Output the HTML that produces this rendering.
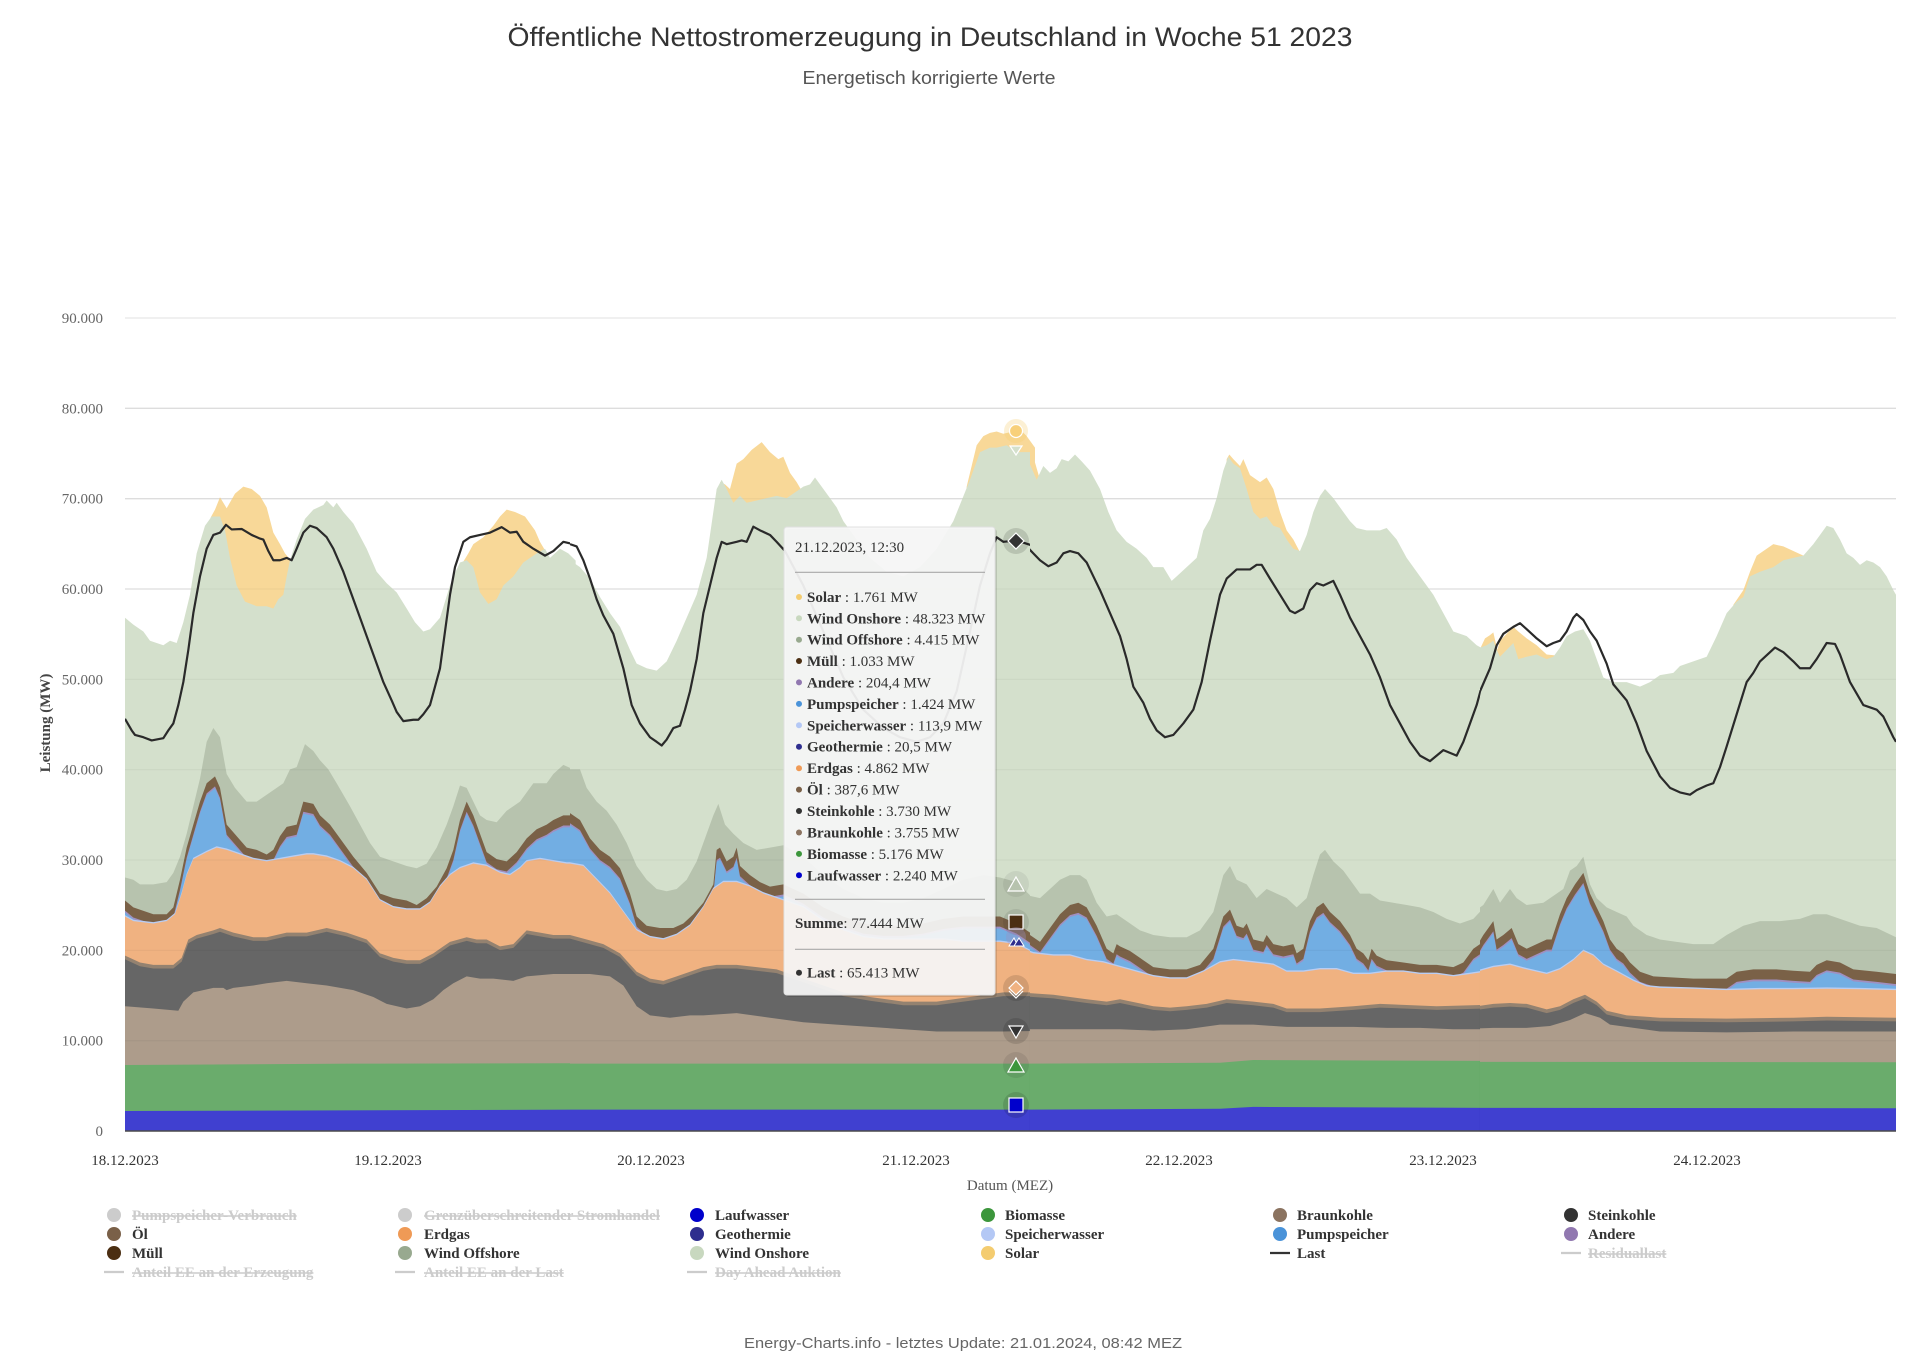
<!DOCTYPE html>
<html><head><meta charset="utf-8"><style>
html,body{margin:0;padding:0;background:#fff;}
svg{display:block;}
.ser{font-family:"Liberation Serif",serif;}
.san{font-family:"Liberation Sans",sans-serif;}
</style></head><body>
<svg width="1920" height="1367" viewBox="0 0 1920 1367" xmlns="http://www.w3.org/2000/svg">
<defs>
<clipPath id="c4"><rect x="15" y="-300" width="1335" height="1846"/></clipPath>
<clipPath id="c5"><rect x="0" y="-300" width="1380" height="1846"/></clipPath>
<clipPath id="c6"><rect x="30" y="-300" width="1350" height="1846"/></clipPath>
<clipPath id="c7"><rect x="60" y="-300" width="1248" height="1846"/></clipPath>
<clipPath id="a4"><rect x="15" y="-300" width="1352" height="1846"/></clipPath>
<clipPath id="a5"><rect x="0" y="-300" width="1395" height="1846"/></clipPath>
<clipPath id="a6"><rect x="30" y="-300" width="1365" height="1846"/></clipPath>
<clipPath id="a7"><rect x="60" y="-300" width="1248" height="1846"/></clipPath>

<polygon id="m4" points="15,1546 15,1045 40,1060 100,1075 140,1075 160,1060 180,1000 200,930 220,880 240,830 260,790 285,775 300,800 320,880 350,905 380,930 410,935 440,945 460,935 480,905 500,885 530,880 550,830 580,835 600,860 630,880 660,910 700,950 740,985 780,1030 820,1040 860,1045 890,1055 920,1040 950,1015 980,975 1000,935 1020,870 1040,830 1060,860 1080,900 1100,940 1130,955 1160,960 1190,940 1220,910 1250,890 1280,880 1300,870 1330,860 1360,860 1380,855 1380,1546"/>
<polygon id="g4" points="15,1546 15,1080 40,1090 100,1095 140,1090 165,1075 185,1030 200,990 220,955 260,940 290,930 320,935 360,945 400,955 440,960 480,955 520,950 560,945 580,945 620,950 660,960 700,975 740,1000 780,1045 820,1060 860,1065 900,1065 930,1050 960,1015 990,990 1020,975 1060,965 1100,970 1140,985 1170,990 1200,975 1220,960 1260,955 1300,960 1340,965 1380,965 1380,1546"/>
<polygon id="o4" points="15,1546 15,1165 60,1180 100,1185 160,1185 185,1170 205,1130 230,1120 280,1110 300,1105 340,1115 400,1125 440,1125 500,1115 560,1115 620,1105 680,1115 740,1130 780,1160 820,1170 860,1175 900,1175 940,1160 970,1145 990,1135 1040,1125 1070,1130 1100,1130 1140,1145 1180,1140 1220,1110 1260,1115 1300,1120 1380,1120 1380,1546"/>

<polygon id="m5" points="0,1546 0,855 30,870 60,910 90,935 120,950 150,975 180,1030 200,1080 230,1100 270,1105 310,1105 340,1095 370,1075 400,1050 430,1010 440,935 450,930 470,960 490,950 500,930 510,970 540,990 570,1005 600,1015 640,1010 700,1030 760,1060 820,1080 880,1095 940,1100 1000,1100 1060,1095 1120,1085 1180,1080 1240,1080 1290,1080 1340,1095 1380,1115 1395,1120 1395,1546"/>
<polygon id="g5" points="0,1546 0,965 40,970 80,1000 120,1030 160,1070 200,1110 240,1125 280,1130 320,1120 360,1100 400,1060 430,1020 460,1005 500,1005 540,1015 580,1030 620,1040 700,1060 760,1090 820,1110 880,1125 940,1130 1000,1130 1060,1130 1120,1130 1180,1135 1240,1135 1290,1135 1340,1140 1380,1155 1395,1158 1395,1546"/>
<polygon id="o5" points="0,1546 0,1120 50,1130 100,1140 150,1160 200,1200 240,1215 280,1220 320,1210 360,1200 400,1190 440,1185 500,1185 560,1190 620,1195 700,1215 760,1230 820,1245 900,1255 1000,1265 1100,1265 1200,1255 1300,1245 1395,1245 1395,1546"/>

<polygon id="m6" points="0,1546 0,1110 30,1120 60,1135 90,1105 120,1075 150,1055 175,1050 200,1060 230,1100 260,1150 280,1160 290,1140 300,1145 330,1155 360,1170 400,1190 450,1195 500,1195 540,1185 580,1150 610,1080 630,1065 650,1100 670,1105 680,1095 700,1130 730,1135 740,1120 760,1140 790,1145 820,1140 830,1160 850,1150 870,1090 890,1060 910,1050 930,1070 960,1090 990,1120 1010,1150 1030,1160 1045,1175 1055,1150 1070,1165 1100,1175 1150,1180 1200,1185 1250,1185 1300,1190 1330,1180 1360,1150 1380,1140 1395,1136 1395,1546"/>
<polygon id="g6" points="0,1546 0,1150 40,1160 100,1165 150,1165 200,1175 250,1180 300,1190 350,1200 400,1210 450,1215 500,1215 550,1200 600,1180 640,1175 700,1180 760,1185 800,1200 850,1200 900,1195 950,1195 1000,1205 1050,1205 1100,1200 1150,1200 1200,1205 1250,1205 1300,1210 1350,1205 1395,1200 1395,1546"/>
<polygon id="o6" points="0,1546 0,1245 100,1250 200,1260 260,1265 300,1260 400,1275 450,1278 500,1275 560,1270 620,1260 700,1265 760,1270 800,1280 900,1280 1000,1275 1080,1270 1150,1272 1250,1275 1395,1272 1395,1546"/>

<polygon id="m7" points="0,1546 0,1180 30,1170 50,1145 70,1120 100,1090 110,1130 130,1120 155,1105 175,1140 200,1150 230,1140 260,1130 275,1130 300,1075 320,1040 345,1010 370,985 390,1030 410,1060 430,1090 450,1130 470,1150 490,1160 510,1180 540,1200 580,1210 700,1215 800,1215 830,1200 880,1195 950,1195 1000,1198 1050,1200 1070,1185 1100,1175 1140,1180 1180,1195 1250,1200 1308,1205 1308,1546"/>
<polygon id="g7" points="0,1546 0,1215 50,1200 100,1190 150,1185 200,1195 260,1205 300,1195 340,1175 370,1155 400,1165 430,1185 470,1200 520,1220 560,1232 600,1235 700,1237 800,1240 900,1238 1000,1238 1100,1237 1200,1238 1308,1240 1308,1546"/>
<polygon id="o7" points="0,1546 0,1280 50,1275 100,1270 150,1268 200,1270 260,1282 300,1275 340,1260 375,1250 410,1265 440,1285 500,1295 600,1300 800,1302 1000,1300 1100,1298 1308,1300 1308,1546"/>
</defs>

<!-- gridlines (under) -->
<g stroke="#e6e6e6" stroke-width="1.3">
<line x1="125" y1="318" x2="1896" y2="318"/>
<line x1="125" y1="408.3" x2="1896" y2="408.3"/>
<line x1="125" y1="498.7" x2="1896" y2="498.7"/>
<line x1="125" y1="589" x2="1896" y2="589"/>
<line x1="125" y1="679.4" x2="1896" y2="679.4"/>
<line x1="125" y1="769.7" x2="1896" y2="769.7"/>
<line x1="125" y1="860" x2="1896" y2="860"/>
<line x1="125" y1="950.4" x2="1896" y2="950.4"/>
<line x1="125" y1="1040.7" x2="1896" y2="1040.7"/>
</g>

<!-- SECTION 4 -->
<g transform="translate(120,420) scale(0.333333,0.45977)"><g clip-path="url(#a4)">
<polygon fill="#f8d898" points="272,1546 272,212 285,195 300,168 320,192 345,160 370,145 395,150 420,165 440,190 460,245 480,270 495,290 512,305 512,1546"/>
<polygon fill="#f8d898" points="1030,1546 1030,308 1045,290 1060,270 1090,255 1120,230 1140,210 1160,195 1185,200 1215,210 1245,240 1260,265 1282,292 1282,1546"/>
<polygon fill="#d4e0cc" points="15,1546 15,430 40,445 70,460 90,480 130,490 150,480 170,485 190,440 210,380 230,290 255,230 275,210 300,210 315,240 330,300 350,360 375,395 410,405 440,405 460,410 475,390 490,380 500,340 510,305 530,260 555,215 580,195 610,185 620,175 640,190 650,180 670,200 700,225 740,280 770,330 800,355 830,375 860,410 885,440 910,460 930,455 960,430 990,360 1000,340 1020,310 1040,305 1060,320 1080,375 1105,400 1130,390 1150,360 1180,340 1210,310 1250,290 1275,280 1290,300 1320,280 1345,290 1380,315 1380,1546"/>
<polygon fill="#b7c3ae" points="15,1546 15,995 40,1000 60,1010 100,1010 140,1005 160,985 180,950 200,900 220,840 240,780 260,700 280,670 300,690 320,770 345,800 380,830 410,830 440,815 470,800 490,790 510,760 530,755 555,705 580,720 600,740 625,760 650,790 690,840 720,880 750,920 780,950 820,960 860,970 890,975 920,965 950,930 980,880 1000,840 1020,795 1040,800 1060,830 1080,860 1100,870 1130,875 1160,850 1200,830 1240,790 1280,790 1300,770 1330,750 1360,760 1380,765 1380,1546"/>
<use href="#m4" fill="#7a6147"/>
<use href="#m4" fill="#a08fc0" transform="translate(0,22)"/>
<use href="#m4" fill="#72aee3" transform="translate(0,26)"/>
<use href="#g4" fill="#b9cdf3" transform="translate(0,-3)"/>
<use href="#g4" fill="#f0b281"/>
<use href="#o4" fill="#948270"/>
<use href="#o4" fill="#666666" transform="translate(0,8)"/>
<polygon fill="#ad9c8b" points="15,1546 15,1275 100,1280 175,1285 190,1265 220,1245 280,1235 310,1235 320,1240 340,1235 400,1230 440,1225 500,1220 560,1225 620,1230 700,1240 760,1255 800,1270 860,1280 900,1275 940,1260 970,1240 1000,1225 1040,1210 1080,1215 1120,1215 1180,1220 1220,1210 1300,1205 1380,1205 1380,1546"/>
<polygon fill="#6aac6c" points="15,1546 15,1403 700,1400 1380,1399 1380,1546"/>
<polygon fill="#4040d0" points="15,1546 15,1503 1380,1500 1380,1546"/>
</g></g>

<!-- SECTION 5 -->
<g transform="translate(570,420) scale(0.333333,0.45977)"><g clip-path="url(#a5)">
<polygon fill="#f8d898" points="450,1546 450,135 465,140 480,150 500,95 520,85 545,65 575,48 600,70 625,85 640,80 660,115 680,135 692,150 692,1546"/>
<polygon fill="#f8d898" points="1190,1546 1190,145 1220,55 1240,35 1260,28 1280,25 1300,30 1330,25 1350,20 1370,35 1395,60 1395,1546"/>
<polygon fill="#d4e0cc" points="0,1546 0,305 30,320 60,345 90,385 120,420 150,450 180,500 200,530 230,540 260,545 290,525 320,480 350,430 380,380 410,300 440,150 455,130 470,150 490,180 510,165 530,180 560,175 590,170 620,165 650,170 690,150 700,145 720,140 735,125 750,140 780,170 800,190 820,220 840,240 900,300 950,330 1000,340 1050,320 1100,280 1150,220 1200,130 1230,70 1260,60 1280,60 1310,55 1340,70 1382,70 1395,90 1395,1546"/>
<polygon fill="#b7c3ae" points="0,1546 0,760 30,760 50,800 80,830 110,850 140,880 170,920 200,970 230,1000 260,1020 290,1025 320,1020 350,1000 380,960 410,900 430,860 445,835 465,880 490,900 520,920 560,935 600,930 640,925 700,950 760,990 820,1020 880,1040 940,1050 1000,1050 1060,1040 1120,1020 1180,1000 1240,990 1290,995 1340,1005 1382,1035 1395,1037 1395,1546"/>
<use href="#m5" fill="#7a6147"/>
<use href="#m5" fill="#a08fc0" transform="translate(0,22)"/>
<use href="#m5" fill="#72aee3" transform="translate(0,26)"/>
<use href="#g5" fill="#b9cdf3" transform="translate(0,-3)"/>
<use href="#g5" fill="#f0b281"/>
<use href="#o5" fill="#948270"/>
<use href="#o5" fill="#666666" transform="translate(0,8)"/>
<polygon fill="#ad9c8b" points="0,1546 0,1205 60,1205 120,1210 160,1230 200,1275 240,1295 300,1300 360,1295 400,1295 500,1290 600,1300 700,1310 800,1315 900,1320 1000,1325 1100,1330 1200,1330 1300,1330 1395,1329 1395,1546"/>
<polygon fill="#6aac6c" points="0,1546 0,1400 1395,1400 1395,1546"/>
<polygon fill="#4040d0" points="0,1546 0,1500 1395,1500 1395,1546"/>
</g></g>

<!-- SECTION 6 -->
<g transform="translate(1020,420) scale(0.333333,0.45977)"><g clip-path="url(#a6)">
<polygon fill="#f8d898" points="0,1546 0,20 20,40 40,80 58,125 58,1546"/>
<polygon fill="#f8d898" points="620,1546 620,85 628,75 640,85 660,100 670,85 690,120 720,135 740,125 760,150 780,200 800,240 820,260 838,285 838,1546"/>
<polygon fill="#d4e0cc" points="0,1546 0,60 20,80 50,130 70,100 90,115 110,105 125,85 145,90 165,75 185,90 210,110 240,150 265,200 290,240 320,265 350,280 380,300 400,320 430,320 455,350 470,340 500,320 530,300 550,240 570,215 590,170 610,110 625,80 640,95 660,105 680,150 700,200 720,215 740,210 760,230 780,235 800,260 820,280 840,285 860,250 880,200 900,165 915,150 940,170 970,200 990,220 1010,235 1040,240 1080,240 1100,235 1130,260 1160,300 1200,340 1240,380 1270,420 1300,460 1340,470 1370,490 1395,500 1395,1546"/>
<polygon fill="#b7c3ae" points="0,1546 0,1030 30,1035 60,1040 90,1020 120,1000 150,990 180,990 200,1000 230,1050 260,1080 290,1075 320,1090 360,1110 400,1120 450,1125 500,1125 540,1110 580,1070 610,990 630,970 650,1000 680,1010 710,1040 740,1020 770,1030 800,1040 830,1060 860,1040 880,990 900,945 915,935 940,960 970,980 1000,1010 1020,1030 1050,1030 1080,1045 1120,1050 1160,1055 1200,1060 1240,1070 1280,1085 1320,1095 1360,1085 1382,1068 1395,1062 1395,1546"/>
<use href="#m6" fill="#7a6147"/>
<use href="#m6" fill="#a08fc0" transform="translate(0,22)"/>
<use href="#m6" fill="#72aee3" transform="translate(0,26)"/>
<use href="#g6" fill="#b9cdf3" transform="translate(0,-3)"/>
<use href="#g6" fill="#f0b281"/>
<use href="#o6" fill="#948270"/>
<use href="#o6" fill="#666666" transform="translate(0,8)"/>
<polygon fill="#ad9c8b" points="0,1546 0,1325 100,1325 200,1325 300,1325 400,1328 500,1325 600,1315 700,1315 800,1320 900,1320 1000,1320 1100,1322 1200,1322 1300,1325 1395,1325 1395,1546"/>
<polygon fill="#6aac6c" points="0,1546 0,1400 600,1398 700,1392 1395,1394 1395,1546"/>
<polygon fill="#4040d0" points="0,1546 0,1500 600,1498 700,1494 1395,1496 1395,1546"/>
</g></g>

<!-- SECTION 7 -->
<g transform="translate(1460,420) scale(0.333333,0.45977)"><g clip-path="url(#a7)">
<polygon fill="#f8d898" points="62,1546 62,495 75,475 90,468 100,462 112,500 112,1546"/>
<polygon fill="#f8d898" points="108,1546 108,510 120,480 140,465 160,450 175,460 200,475 230,490 260,510 285,512 285,1546"/>
<polygon fill="#f8d898" points="820,1546 820,402 850,370 870,330 890,295 920,280 940,270 970,275 1000,285 1030,295 1050,288 1060,272 1060,1546"/>
<polygon fill="#d4e0cc" points="0,1546 0,460 40,480 60,495 80,490 100,480 110,500 120,515 140,500 160,485 175,520 200,515 230,510 260,520 280,515 300,495 320,470 345,460 370,455 390,480 410,520 430,560 460,570 500,570 540,580 570,570 600,555 640,550 660,535 700,525 740,515 770,470 800,420 830,395 850,385 870,340 900,330 940,320 970,305 1000,300 1030,295 1060,270 1080,250 1100,230 1120,235 1140,260 1160,290 1180,300 1200,315 1220,305 1240,310 1260,320 1280,340 1300,370 1308,380 1308,1546"/>
<polygon fill="#b7c3ae" points="0,1546 0,1090 40,1070 70,1055 100,1020 120,1050 150,1020 170,1040 200,1055 250,1050 290,1030 310,1020 330,980 350,970 370,950 390,1010 410,1040 440,1060 470,1070 500,1080 520,1100 560,1120 600,1130 650,1135 700,1140 760,1140 780,1130 800,1120 850,1100 900,1090 960,1090 1020,1085 1060,1075 1100,1075 1140,1085 1200,1100 1250,1105 1308,1125 1308,1546"/>
<use href="#m7" fill="#7a6147"/>
<use href="#m7" fill="#a08fc0" transform="translate(0,22)"/>
<use href="#m7" fill="#72aee3" transform="translate(0,26)"/>
<use href="#g7" fill="#b9cdf3" transform="translate(0,-3)"/>
<use href="#g7" fill="#f0b281"/>
<use href="#o7" fill="#948270"/>
<use href="#o7" fill="#666666" transform="translate(0,8)"/>
<polygon fill="#ad9c8b" points="0,1546 0,1325 100,1322 200,1322 270,1318 330,1305 375,1290 420,1300 450,1315 500,1320 600,1330 800,1332 1000,1330 1308,1330 1308,1546"/>
<polygon fill="#6aac6c" points="0,1546 0,1396 1308,1397 1308,1546"/>
<polygon fill="#4040d0" points="0,1546 0,1496 1308,1497 1308,1546"/>
</g></g>

<!-- load lines (tight clips) -->
<g transform="translate(120,420) scale(0.333333,0.45977)"><g clip-path="url(#c4)">
<polyline fill="none" stroke="#2a2a2a" stroke-width="2.2" stroke-linejoin="round" vector-effect="non-scaling-stroke" points="15,650 35,675 45,685 70,690 95,697 130,692 145,675 160,660 175,620 190,570 205,500 220,420 240,340 260,280 280,250 300,245 318,228 335,238 365,237 395,250 420,258 430,260 445,285 460,305 480,305 500,300 515,305 530,280 550,245 570,230 590,235 620,255 640,280 670,330 700,390 730,450 760,510 790,570 815,610 830,635 850,655 880,652 895,652 910,640 930,620 945,580 960,540 975,460 990,380 1005,320 1030,265 1050,255 1080,250 1110,245 1145,233 1170,245 1190,243 1210,265 1240,280 1275,295 1300,285 1330,265 1360,270 1380,295"/>
</g></g>
<g transform="translate(570,420) scale(0.333333,0.45977)"><g clip-path="url(#c5)">
<polyline fill="none" stroke="#2a2a2a" stroke-width="2.2" stroke-linejoin="round" vector-effect="non-scaling-stroke" points="0,270 20,275 40,305 60,345 80,390 100,425 130,465 160,540 185,620 210,660 240,690 260,700 275,708 290,695 310,670 330,665 345,630 360,590 380,520 400,420 420,360 440,300 455,265 470,270 500,265 515,262 530,265 550,232 570,240 600,250 620,265 645,285 700,360 760,460 820,560 880,630 940,670 990,690 1040,700 1080,690 1120,660 1160,590 1200,460 1230,360 1260,290 1280,255 1300,265 1340,262 1382,272"/>
</g></g>
<g transform="translate(1020,420) scale(0.333333,0.45977)"><g clip-path="url(#c6)">
<polyline fill="none" stroke="#2a2a2a" stroke-width="2.2" stroke-linejoin="round" vector-effect="non-scaling-stroke" points="0,260 20,275 40,290 60,305 85,318 110,310 130,290 150,285 175,290 200,310 220,340 240,370 270,420 300,470 320,520 340,580 370,615 390,650 410,675 435,690 460,685 490,660 520,630 545,570 570,480 600,380 620,345 650,325 690,325 710,315 725,315 750,345 780,380 810,415 825,420 850,410 870,370 890,355 910,360 940,350 960,380 990,430 1020,470 1050,510 1080,560 1110,620 1140,660 1170,700 1200,730 1230,742 1270,718 1310,730 1330,700 1350,660 1370,620 1382,588"/>
</g></g>
<g transform="translate(1460,420) scale(0.333333,0.45977)"><g clip-path="url(#c7)">
<polyline fill="none" stroke="#2a2a2a" stroke-width="2.2" stroke-linejoin="round" vector-effect="non-scaling-stroke" points="0,725 20,690 40,655 60,590 90,540 110,490 130,465 160,450 180,442 200,455 230,475 260,492 280,485 300,480 320,460 340,430 350,422 370,435 390,460 410,480 440,530 460,575 500,610 530,660 560,720 600,775 630,800 660,810 690,815 710,805 740,795 760,790 780,755 800,710 830,640 860,570 880,550 900,525 930,505 945,495 970,505 1000,525 1020,540 1050,540 1070,520 1100,485 1125,487 1140,510 1170,570 1210,620 1250,630 1270,645 1300,690 1308,700"/>
</g></g>

<!-- faint gridlines over areas -->
<g stroke="#000" stroke-opacity="0.035" stroke-width="1.3">
<line x1="125" y1="408.3" x2="1896" y2="408.3"/>
<line x1="125" y1="498.7" x2="1896" y2="498.7"/>
<line x1="125" y1="589" x2="1896" y2="589"/>
<line x1="125" y1="679.4" x2="1896" y2="679.4"/>
<line x1="125" y1="769.7" x2="1896" y2="769.7"/>
<line x1="125" y1="860" x2="1896" y2="860"/>
<line x1="125" y1="950.4" x2="1896" y2="950.4"/>
<line x1="125" y1="1040.7" x2="1896" y2="1040.7"/>
</g>

<!-- x axis line -->
<line x1="125" y1="1131" x2="1896" y2="1131" stroke="#4a4a4a" stroke-width="1.6"/>

<!-- Y labels -->
<g class="ser" font-size="15" fill="#666" text-anchor="end">
<text x="103" y="323">90.000</text>
<text x="103" y="413.3">80.000</text>
<text x="103" y="503.7">70.000</text>
<text x="103" y="594">60.000</text>
<text x="103" y="684.4">50.000</text>
<text x="103" y="774.7">40.000</text>
<text x="103" y="865">30.000</text>
<text x="103" y="955.4">20.000</text>
<text x="103" y="1045.7">10.000</text>
<text x="103" y="1136">0</text>
</g>
<text class="ser" font-size="15" font-weight="bold" fill="#444" text-anchor="middle" transform="translate(50,723) rotate(-90)">Leistung (MW)</text>

<!-- X labels -->
<g class="ser" font-size="15" fill="#333" text-anchor="middle">
<text x="125" y="1165">18.12.2023</text>
<text x="388" y="1165">19.12.2023</text>
<text x="651" y="1165">20.12.2023</text>
<text x="916" y="1165">21.12.2023</text>
<text x="1179" y="1165">22.12.2023</text>
<text x="1443" y="1165">23.12.2023</text>
<text x="1707" y="1165">24.12.2023</text>
</g>
<text class="ser" font-size="15" fill="#555" text-anchor="middle" x="1010" y="1190">Datum (MEZ)</text>

<!-- Title -->
<text class="san" font-size="27" fill="#333" text-anchor="middle" x="930" y="46" textLength="845" lengthAdjust="spacingAndGlyphs">Öffentliche Nettostromerzeugung in Deutschland in Woche 51 2023</text>
<text class="san" font-size="18" fill="#555" text-anchor="middle" x="929" y="84" textLength="253" lengthAdjust="spacingAndGlyphs">Energetisch korrigierte Werte</text>

<!-- hover markers -->
<g>
<circle cx="1016" cy="431" r="12" fill="#f4cc70" fill-opacity="0.3"/>
<circle cx="1016" cy="431" r="6.5" fill="#f8d07a" stroke="#fff" stroke-width="1.2"/>
<polygon points="1010,446 1022,446 1016,455" fill="#d4e0cc" stroke="#fff" stroke-width="1.2"/>
<circle cx="1016" cy="541" r="13" fill="#000" fill-opacity="0.13"/>
<polygon points="1016,533 1024,541 1016,549 1008,541" fill="#333" stroke="#fff" stroke-width="1.2"/>
<circle cx="1016" cy="884" r="13" fill="#000" fill-opacity="0.06"/>
<polygon points="1016,877 1024,891 1008,891" fill="#b7c3ae" stroke="#fff" stroke-width="1.2"/>
<circle cx="1016" cy="922" r="13" fill="#000" fill-opacity="0.08"/>
<rect x="1009" y="915" width="14" height="14" fill="#4b2e12" stroke="#fff" stroke-width="1.2"/>
<circle cx="1016" cy="937" r="10" fill="#9f8fc0" fill-opacity="0.35"/>
<polygon points="1009,946 1014,938 1018,946" fill="#2e2e8e" stroke="#fff" stroke-width="1"/>
<polygon points="1014,946 1019,938 1024,946" fill="#2e2e8e" stroke="#fff" stroke-width="1"/>
<circle cx="1016" cy="988" r="13" fill="#000" fill-opacity="0.12"/>
<polygon points="1016,981 1023,988 1016,995 1009,988" fill="#f0b281" stroke="#fff" stroke-width="1.2"/>
<polyline points="1009,991 1016,998 1023,991" fill="none" stroke="#fff" stroke-width="1.2"/>
<circle cx="1016" cy="1031" r="13" fill="#000" fill-opacity="0.12"/>
<polygon points="1009,1026 1023,1026 1016,1038" fill="#333" stroke="#fff" stroke-width="1.2"/>
<circle cx="1016" cy="1065" r="13" fill="#000" fill-opacity="0.08"/>
<polygon points="1016,1058 1024,1072 1008,1072" fill="#3c963c" stroke="#fff" stroke-width="1.2"/>
<circle cx="1016" cy="1105" r="13" fill="#000" fill-opacity="0.12"/>
<rect x="1009" y="1098" width="14" height="14" fill="#0000cc" stroke="#fff" stroke-width="1.2"/>
</g>

<!-- tooltip -->
<rect x="786" y="529" width="211" height="468" rx="3" fill="#000" fill-opacity="0.12"/>
<rect x="784" y="527" width="211" height="468" rx="3" fill="#f7f7f7" fill-opacity="0.93" stroke="#e0e0e0" stroke-width="1"/>
<g class="ser" font-size="15" fill="#333">
<text x="795" y="552">21.12.2023, 12:30</text>
<line x1="795" y1="572.3" x2="985" y2="572.3" stroke="#a8a8a8" stroke-width="1.2"/>
<circle cx="799" cy="597" r="3" fill="#f4cc70"/><text x="807" y="602"><tspan font-weight="bold">Solar</tspan> : 1.761 MW</text>
<circle cx="799" cy="618.3" r="3" fill="#c8d8bf"/><text x="807" y="623.3"><tspan font-weight="bold">Wind Onshore</tspan> : 48.323 MW</text>
<circle cx="799" cy="639.7" r="3" fill="#98a98f"/><text x="807" y="644.7"><tspan font-weight="bold">Wind Offshore</tspan> : 4.415 MW</text>
<circle cx="799" cy="661" r="3" fill="#4b2e12"/><text x="807" y="666"><tspan font-weight="bold">Müll</tspan> : 1.033 MW</text>
<circle cx="799" cy="682.4" r="3" fill="#9178b0"/><text x="807" y="687.4"><tspan font-weight="bold">Andere</tspan> : 204,4 MW</text>
<circle cx="799" cy="703.9" r="3" fill="#4a93d9"/><text x="807" y="708.9"><tspan font-weight="bold">Pumpspeicher</tspan> : 1.424 MW</text>
<circle cx="799" cy="725.3" r="3" fill="#b4c8f5"/><text x="807" y="730.3"><tspan font-weight="bold">Speicherwasser</tspan> : 113,9 MW</text>
<circle cx="799" cy="746.7" r="3" fill="#2e2e8e"/><text x="807" y="751.7"><tspan font-weight="bold">Geothermie</tspan> : 20,5 MW</text>
<circle cx="799" cy="768.2" r="3" fill="#ef9a56"/><text x="807" y="773.2"><tspan font-weight="bold">Erdgas</tspan> : 4.862 MW</text>
<circle cx="799" cy="789.6" r="3" fill="#7a6048"/><text x="807" y="794.6"><tspan font-weight="bold">Öl</tspan> : 387,6 MW</text>
<circle cx="799" cy="811" r="3" fill="#333"/><text x="807" y="816"><tspan font-weight="bold">Steinkohle</tspan> : 3.730 MW</text>
<circle cx="799" cy="832.5" r="3" fill="#8b7360"/><text x="807" y="837.5"><tspan font-weight="bold">Braunkohle</tspan> : 3.755 MW</text>
<circle cx="799" cy="853.9" r="3" fill="#3c963c"/><text x="807" y="858.9"><tspan font-weight="bold">Biomasse</tspan> : 5.176 MW</text>
<circle cx="799" cy="875.3" r="3" fill="#0000cc"/><text x="807" y="880.3"><tspan font-weight="bold">Laufwasser</tspan> : 2.240 MW</text>
<line x1="795" y1="899.3" x2="985" y2="899.3" stroke="#a8a8a8" stroke-width="1.2"/>
<text x="795" y="928"><tspan font-weight="bold">Summe</tspan>: 77.444 MW</text>
<line x1="795" y1="949.3" x2="985" y2="949.3" stroke="#a8a8a8" stroke-width="1.2"/>
<circle cx="799" cy="972.7" r="3" fill="#333"/><text x="807" y="977.7"><tspan font-weight="bold">Last</tspan> : 65.413 MW</text>
</g>

<!-- legend -->
<g class="ser" font-size="15" font-weight="bold">
<circle cx="114" cy="1215" r="7" fill="#cccccc"/><text x="132" y="1220" fill="#cccccc" text-decoration="line-through">Pumpspeicher-Verbrauch</text>
<circle cx="405" cy="1215" r="7" fill="#cccccc"/><text x="424" y="1220" fill="#cccccc" text-decoration="line-through">Grenzüberschreitender Stromhandel</text>
<circle cx="697" cy="1215" r="7" fill="#0000cc"/><text x="715" y="1220" fill="#333">Laufwasser</text>
<circle cx="988" cy="1215" r="7" fill="#3c963c"/><text x="1005" y="1220" fill="#333">Biomasse</text>
<circle cx="1280" cy="1215" r="7" fill="#8b7360"/><text x="1297" y="1220" fill="#333">Braunkohle</text>
<circle cx="1571" cy="1215" r="7" fill="#333333"/><text x="1588" y="1220" fill="#333">Steinkohle</text>
<circle cx="114" cy="1234" r="7" fill="#7a6048"/><text x="132" y="1239" fill="#333">Öl</text>
<circle cx="405" cy="1234" r="7" fill="#ef9a56"/><text x="424" y="1239" fill="#333">Erdgas</text>
<circle cx="697" cy="1234" r="7" fill="#2e2e8e"/><text x="715" y="1239" fill="#333">Geothermie</text>
<circle cx="988" cy="1234" r="7" fill="#b4c8f5"/><text x="1005" y="1239" fill="#333">Speicherwasser</text>
<circle cx="1280" cy="1234" r="7" fill="#4a93d9"/><text x="1297" y="1239" fill="#333">Pumpspeicher</text>
<circle cx="1571" cy="1234" r="7" fill="#9178b0"/><text x="1588" y="1239" fill="#333">Andere</text>
<circle cx="114" cy="1253" r="7" fill="#4b2e12"/><text x="132" y="1258" fill="#333">Müll</text>
<circle cx="405" cy="1253" r="7" fill="#98a98f"/><text x="424" y="1258" fill="#333">Wind Offshore</text>
<circle cx="697" cy="1253" r="7" fill="#c8d8bf"/><text x="715" y="1258" fill="#333">Wind Onshore</text>
<circle cx="988" cy="1253" r="7" fill="#f4cc70"/><text x="1005" y="1258" fill="#333">Solar</text>
<line x1="1270" y1="1253" x2="1290" y2="1253" stroke="#333" stroke-width="2.2"/><text x="1297" y="1258" fill="#333">Last</text>
<line x1="1561" y1="1253" x2="1581" y2="1253" stroke="#cccccc" stroke-width="2.2"/><text x="1588" y="1258" fill="#cccccc" text-decoration="line-through">Residuallast</text>
<line x1="104" y1="1272" x2="124" y2="1272" stroke="#cccccc" stroke-width="2.2"/><text x="132" y="1277" fill="#cccccc" text-decoration="line-through">Anteil EE an der Erzeugung</text>
<line x1="395" y1="1272" x2="415" y2="1272" stroke="#cccccc" stroke-width="2.2"/><text x="424" y="1277" fill="#cccccc" text-decoration="line-through">Anteil EE an der Last</text>
<line x1="687" y1="1272" x2="707" y2="1272" stroke="#cccccc" stroke-width="2.2"/><text x="715" y="1277" fill="#cccccc" text-decoration="line-through">Day Ahead Auktion</text>
</g>

<!-- footer -->
<text class="san" font-size="15" fill="#666" text-anchor="middle" x="963" y="1348" textLength="438" lengthAdjust="spacingAndGlyphs">Energy-Charts.info - letztes Update: 21.01.2024, 08:42 MEZ</text>
</svg>
</body></html>
